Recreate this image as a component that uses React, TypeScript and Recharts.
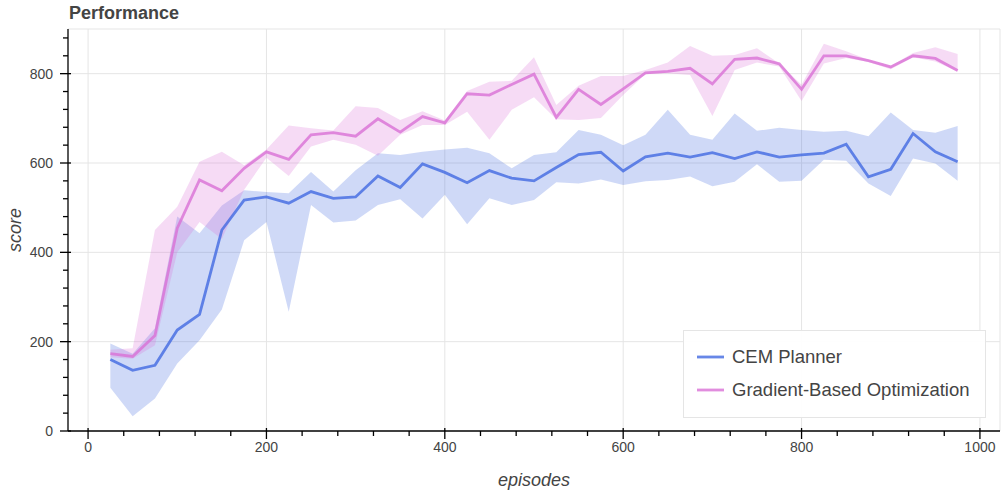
import React from 'react';
import { ComposedChart, Area, Line, XAxis, YAxis, CartesianGrid, Legend } from 'recharts';

const episodes = [25, 50, 75, 100, 125, 150, 175, 200, 225, 250, 275, 300, 325, 350, 375, 400, 425, 450, 475, 500, 525, 550, 575, 600, 625, 650, 675, 700, 725, 750, 775, 800, 825, 850, 875, 900, 925, 950, 975];

const cemMean = [160, 136, 147, 226, 261, 450, 517, 524, 510, 536, 521, 524, 571, 545, 598, 579, 556, 583, 566, 560, 590, 619, 624, 582, 614, 622, 613, 623, 610, 625, 613, 618, 622, 642, 569, 586, 666, 625, 603];
const cemLow = [97, 33, 73, 151, 203, 272, 427, 468, 267, 506, 467, 471, 506, 519, 476, 529, 463, 521, 506, 517, 557, 554, 563, 551, 559, 562, 570, 548, 558, 597, 558, 560, 607, 605, 554, 526, 610, 599, 560];
const cemHigh = [196, 173, 230, 480, 443, 505, 539, 535, 532, 580, 536, 584, 622, 618, 625, 630, 634, 622, 588, 618, 624, 674, 663, 640, 663, 719, 663, 652, 711, 672, 679, 674, 670, 672, 660, 713, 674, 668, 683];

const gboMean = [173, 167, 214, 454, 562, 538, 588, 625, 608, 663, 668, 660, 699, 669, 704, 690, 755, 752, 776, 799, 702, 765, 731, 766, 802, 805, 812, 777, 832, 835, 822, 765, 840, 840, 829, 815, 840, 834, 807];
const gboLow = [165, 162, 192, 400, 468, 430, 540, 612, 571, 637, 652, 641, 616, 663, 685, 685, 715, 652, 719, 747, 698, 696, 701, 752, 799, 801, 797, 705, 808, 825, 816, 739, 823, 835, 826, 810, 837, 827, 805];
const gboHigh = [182, 185, 450, 502, 603, 625, 595, 630, 684, 678, 673, 727, 723, 696, 716, 695, 761, 782, 784, 837, 730, 773, 795, 795, 808, 825, 862, 840, 842, 857, 823, 775, 867, 850, 831, 817, 846, 859, 844];

const seriesNames = ['CEM Planner', 'Gradient-Based Optimization'];
const seriesColors = ['#4169e1', '#da70d6'];

const xTicks = [0, 40, 80, 120, 160, 200, 240, 280, 320, 360, 400, 440, 480, 520, 560, 600, 640, 680, 720, 760, 800, 840, 880, 920, 960, 1000];
const xMajor = [0, 200, 400, 600, 800, 1000];
const yTicks = [0, 40, 80, 120, 160, 200, 240, 280, 320, 360, 400, 440, 480, 520, 560, 600, 640, 680, 720, 760, 800, 840, 880];
const yMajor = [0, 200, 400, 600, 800];
const xDomain: [number, number] = [-22.5, 1022.5];
const yDomain: [number, number] = [0, 900];

const rows = episodes.map((x, i) => ({
  x,
  cem: cemMean[i],
  cemBand: [cemLow[i], cemHigh[i]],
  gbo: gboMean[i],
  gboBand: [gboLow[i], gboHigh[i]],
}));

const FONT = '"Liberation Sans", Arial, Helvetica, sans-serif';
const TEXT = '#444444';

const XTick = (props: any) => {
  const { x, y, payload } = props;
  const v = payload.value;
  const major = xMajor.includes(v);
  return (
    <g>
      <line x1={x} x2={x} y1={major ? y - 3 : y} y2={y + (major ? 8 : 5)} stroke="#000" strokeWidth={1.3} />
      {major && (
        <text x={x} y={y + 21} textAnchor="middle" fill={TEXT} fontSize={14} fontFamily={FONT}>
          {v}
        </text>
      )}
    </g>
  );
};

const YTick = (props: any) => {
  const { x, y, payload } = props;
  const v = payload.value;
  const major = yMajor.includes(v);
  return (
    <g>
      <line y1={y} y2={y} x1={major ? x + 3 : x} x2={x - (major ? 8 : 5)} stroke="#000" strokeWidth={1.3} />
      {major && (
        <text x={x - 15} y={y + 5} textAnchor="end" fill={TEXT} fontSize={14} fontFamily={FONT}>
          {v}
        </text>
      )}
    </g>
  );
};

const XLabel = (p: any) => {
  const vb = p.viewBox;
  return (
    <text x={vb.x + vb.width / 2} y={vb.y + vb.height - 5} textAnchor="middle" fill={TEXT} fontSize={18} fontStyle="italic" fontFamily={FONT}>
      episodes
    </text>
  );
};

const YLabel = (p: any) => {
  const vb = p.viewBox;
  const cx = vb.x + 21;
  const cy = vb.y + vb.height / 2;
  return (
    <text x={cx} y={cy} transform={`rotate(-90 ${cx} ${cy})`} textAnchor="middle" fill={TEXT} fontSize={18} fontStyle="italic" fontFamily={FONT}>
      score
    </text>
  );
};

const LegendBox = () => (
  <svg width={303} height={88} style={{ display: 'block' }}>
    <rect x={0.5} y={0.5} width={302} height={87} fill="#fff" fillOpacity={0.95} stroke="#e5e5e5" />
    {seriesNames.map((name, i) => (
      <g key={name}>
        <line x1={14} x2={41} y1={27 + 33 * i} y2={27 + 33 * i} stroke={seriesColors[i]} strokeOpacity={0.8} strokeWidth={2.8} />
        <text x={49} y={33 + 33 * i} fill={TEXT} fontSize={18.5} fontFamily={FONT}>
          {name}
        </text>
      </g>
    ))}
  </svg>
);

export default function App() {
  return (
    <div style={{ position: 'absolute', left: 0, top: 0, width: 1001, height: 491, background: '#fff' }}>
      <ComposedChart width={1001} height={491} data={rows} margin={{ top: 29, right: 1, bottom: 0, left: 0 }}>
        <CartesianGrid
          stroke="#e5e5e5"
          strokeWidth={1}
          horizontalValues={[200, 400, 600, 800, 900]}
          verticalValues={[0, 200, 400, 600, 800, 1000, 1022.5]}
        />
        <XAxis
          type="number"
          dataKey="x"
          domain={xDomain}
          ticks={xTicks}
          interval={0}
          allowDataOverflow
          height={60}
          tickSize={0}
          tickMargin={0}
          tickLine={false}
          tick={<XTick />}
          axisLine={{ stroke: '#000', strokeWidth: 1.3 }}
          label={<XLabel />}
        />
        <YAxis
          type="number"
          domain={yDomain}
          ticks={yTicks}
          interval={0}
          allowDataOverflow
          width={68}
          tickSize={0}
          tickMargin={0}
          tickLine={false}
          tick={<YTick />}
          axisLine={{ stroke: '#000', strokeWidth: 1.3 }}
          label={<YLabel />}
        />
        <Area dataKey="cemBand" type="linear" fill={seriesColors[0]} fillOpacity={0.25} stroke="none" isAnimationActive={false} activeDot={false} />
        <Area dataKey="gboBand" type="linear" fill={seriesColors[1]} fillOpacity={0.25} stroke="none" isAnimationActive={false} activeDot={false} />
        <Line dataKey="cem" type="linear" stroke={seriesColors[0]} strokeOpacity={0.8} strokeWidth={2.8} dot={false} activeDot={false} isAnimationActive={false} />
        <Line dataKey="gbo" type="linear" stroke={seriesColors[1]} strokeOpacity={0.8} strokeWidth={2.8} dot={false} activeDot={false} isAnimationActive={false} />
        <Legend
          layout="vertical"
          align="center"
          verticalAlign="middle"
          wrapperStyle={{ left: 683, top: 330, width: 303, height: 88 }}
          content={() => <LegendBox />}
        />
      </ComposedChart>
      <svg width={300} height={28} style={{ position: 'absolute', left: 0, top: 0 }}>
        <text x={69} y={19} fill={TEXT} fontSize={18} fontWeight="bold" fontFamily={FONT}>
          Performance
        </text>
      </svg>
    </div>
  );
}
